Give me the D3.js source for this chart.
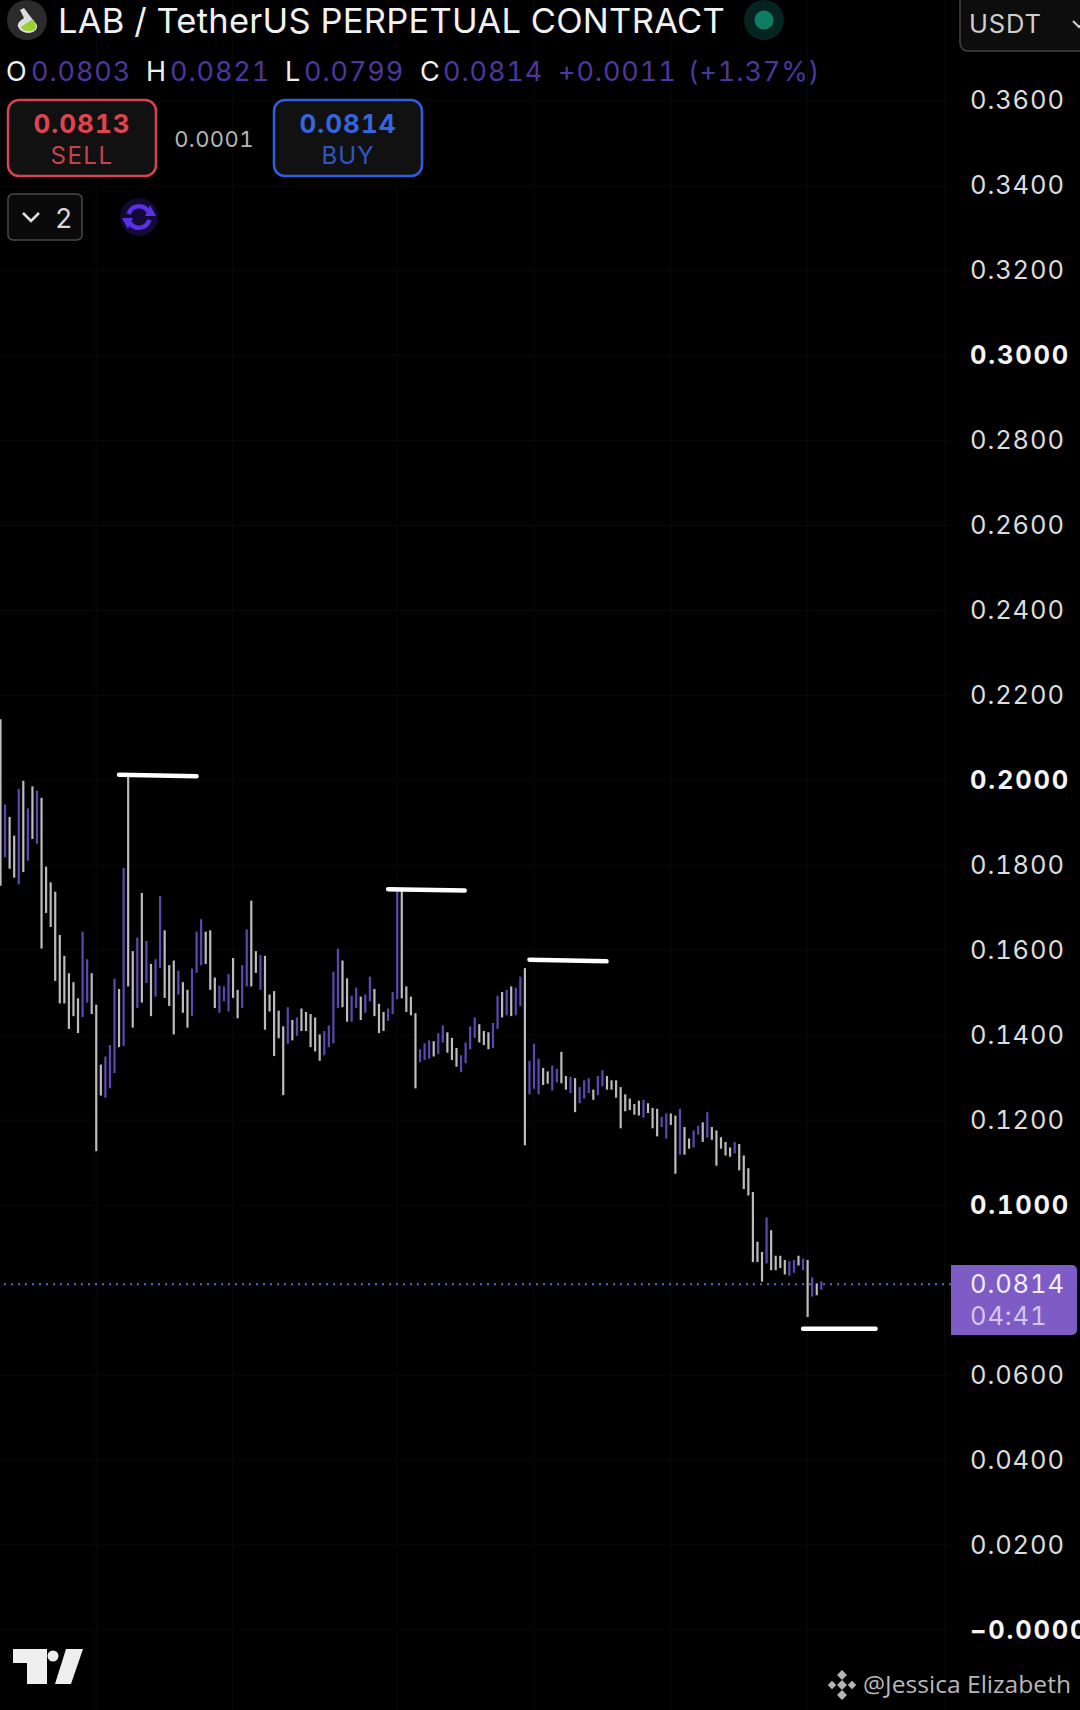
<!DOCTYPE html>
<html>
<head>
<meta charset="utf-8">
<script src="https://cdn.jsdelivr.net/npm/d3@7"></script>
<style>
  html, body { margin: 0; padding: 0; background: #000; }
  svg { display: block; }
  text { font-family: Inter, Roboto, sans-serif; font-feature-settings: "tnum"; }
</style>
</head>
<body>
<svg></svg>
<script>
// bar highs (index = bar number from the left)
var barHigh = [
  .2144,.1943,.1914,.1870,.1980,.1999,.1934,.1986,.1976,.1959,
  .1797,.1760,.1738,.1636,.1587,.1546,.1525,.1487,.1644,.1579,
  .1546,.1472,.1331,.1350,.1377,.1533,.1509,.1794,.2016,.1598,
  .1630,.1735,.1622,.1568,.1579,.1728,.1647,.1565,.1576,.1552,
  .1525,.1507,.1557,.1644,.1673,.1644,.1647,.1536,.1517,.1515,
  .1544,.1582,.1507,.1565,.1649,.1717,.1598,.1589,.1587,.1496,
  .1504,.1458,.1421,.1466,.1436,.1442,.1463,.1455,.1450,.1442,
  .1402,.1410,.1423,.1550,.1604,.1576,.1534,.1493,.1512,.1491,
  .1496,.1538,.1509,.1474,.1455,.1463,.1502,.1741,.1742,.1515,
  .1491,.1452,.1367,.1381,.1388,.1386,.1405,.1423,.1407,.1394,
  .1370,.1353,.1383,.1421,.1442,.1426,.1410,.1407,.1429,.1493,
  .1502,.1507,.1515,.1512,.1538,.1558,.1340,.1380,.1345,.1323,
  .1315,.1329,.1321,.1361,.1304,.1302,.1299,.1278,.1294,.1299,
  .1272,.1304,.1318,.1304,.1294,.1294,.1278,.1261,.1251,.1238,
  .1246,.1248,.1240,.1229,.1227,.1208,.1216,.1216,.1211,.1227,
  .1184,.1157,.1176,.1187,.1195,.1219,.1184,.1176,.1160,.1149,
  .1136,.1149,.1144,.1117,.1087,.1031,.0914,.0890,.0971,.0941,
  .0881,.0881,.0871,.0868,.0871,.0881,.0874,.0871,.0830,.0815,
  .0821
];
var barLow = [
  .1752,.1819,.1792,.1771,.1755,.1784,.1811,.1862,.1851,.1604,
  .1688,.1655,.1528,.1475,.1475,.1415,.1445,.1405,.1443,.1477,
  .1450,.1127,.1258,.1253,.1275,.1311,.1372,.1375,.1515,.1418,
  .1464,.1477,.1523,.1445,.1491,.1558,.1488,.1469,.1402,.1496,
  .1453,.1418,.1445,.1547,.1565,.1568,.1507,.1464,.1453,.1480,
  .1456,.1488,.1440,.1464,.1515,.1515,.1547,.1507,.1413,.1456,
  .1351,.1393,.1259,.1380,.1388,.1399,.1410,.1410,.1372,.1362,
  .1340,.1353,.1372,.1381,.1464,.1466,.1432,.1432,.1464,.1436,
  .1453,.1480,.1445,.1405,.1410,.1434,.1450,.1485,.1487,.1455,
  .1447,.1275,.1337,.1342,.1345,.1350,.1356,.1383,.1359,.1342,
  .1326,.1313,.1334,.1367,.1394,.1383,.1377,.1367,.1370,.1415,
  .1442,.1447,.1445,.1447,.1469,.1141,.1261,.1274,.1261,.1283,
  .1286,.1270,.1289,.1287,.1272,.1264,.1219,.1240,.1251,.1264,
  .1248,.1259,.1280,.1272,.1272,.1253,.1181,.1221,.1224,.1213,
  .1211,.1206,.1217,.1181,.1162,.1184,.1157,.1189,.1074,.1119,
  .1119,.1133,.1136,.1166,.1149,.1159,.1154,.1093,.1133,.1117,
  .1114,.1122,.1082,.1038,.1023,.0866,.0866,.0820,.0863,.0847,
  .0847,.0852,.0837,.0834,.0841,.0858,.0847,.0737,.0785,.0788,
  .0801
];
// bar numbers drawn purple (close above open), the rest are grey
var risingBars = [1,4,6,8,18,19,23,24,25,27,30,32,34,35,39,42,43,44,48,49,50,53,54,57,63,65,
  71,72,73,74,77,78,80,81,85,86,87,92,93,94,96,97,101,102,103,104,108,109,111,113,114,116,117,118,
  121,122,125,127,128,129,131,132,141,145,146,149,152,153,155,161,168,173,174,176,178,180];

// hand drawn levels: start bar, end bar, start price, end price
var levelStart = [26, 85, 116, 176];
var levelEnd = [43, 101.8, 132.9, 191.9];
var levelFrom = [.2013, .1744, .1578, .0709];
var levelTo = [.2010, .1741, .1574, .0709];

var priceTicks = [.36,.34,.32,.30,.28,.26,.24,.22,.20,.18,.16,.14,.12,.10,.06,.04,.02,0];
var tickLabels = ["0.3600","0.3400","0.3200","0.3000","0.2800","0.2600","0.2400","0.2200","0.2000",
  "0.1800","0.1600","0.1400","0.1200","0.1000","0.0600","0.0400","0.0200","\u22120.0000"];
var boldLabels = ["0.3000","0.2000","0.1000","\u22120.0000"];
var gridBars = [21, 51, 87, 117, 147, 177, 207];
var lastPrice = 0.0814;

var svgWidth = 1080, svgHeight = 1710;
var svg = d3.select('svg')
    .attr("width", svgWidth)
    .attr("height", svgHeight)
    .attr("viewBox", "0 0 1080 1710");

var x = d3.scaleLinear().domain([0, 180]).range([0.5, 821.3]);
var y = d3.scaleLinear().domain([0, 0.36]).range([1630, 100.7]);

function isBold(d) {
  return boldLabels.indexOf(tickLabels[priceTicks.indexOf(d)]) >= 0;
}

// faint grid
svg.append("g").selectAll("line").data(priceTicks).enter().append("line")
    .attr("x1", 0).attr("x2", 951)
    .attr("y1", d => y(d)).attr("y2", d => y(d))
    .attr("stroke", "#090909");
svg.append("g").selectAll("line").data(gridBars).enter().append("line")
    .attr("x1", d => x(d)).attr("x2", d => x(d))
    .attr("y1", 0).attr("y2", svgHeight)
    .attr("stroke", "#090909");

// price axis labels
var axis = d3.axisRight(y).tickValues(priceTicks).tickSize(0).tickPadding(0)
    .tickFormat((d, i) => tickLabels[i]);
var axisG = svg.append("g").attr("transform", "translate(970,0)").call(axis);
axisG.select(".domain").remove();
axisG.selectAll("text")
    .attr("font-size", 25.5)
    .style("font-family", "Inter, Roboto, sans-serif")
    .style("letter-spacing", d => isBold(d) ? "1.8px" : "0.9px")
    .attr("font-weight", d => isBold(d) ? 700 : 400)
    .attr("fill", d => isBold(d) ? "#f4f4f4" : "#dcdcdc");

// last price line
svg.append("line")
    .attr("x1", 4).attr("x2", 951)
    .attr("y1", y(lastPrice)).attr("y2", y(lastPrice))
    .attr("stroke", "#7258cc").attr("stroke-width", 2)
    .attr("stroke-dasharray", "2 5");

// bars
svg.append("g").selectAll("line").data(barHigh).enter().append("line")
    .attr("x1", (d, i) => x(i)).attr("x2", (d, i) => x(i))
    .attr("y1", d => y(d))
    .attr("y2", (d, i) => y(barLow[i]))
    .attr("stroke-width", 2.2)
    .attr("stroke", (d, i) => risingBars.indexOf(i) >= 0 ? "#5f47b3" : "#bcbcbc");

// hand drawn levels
svg.append("g").selectAll("line").data(levelStart).enter().append("line")
    .attr("x1", d => x(d))
    .attr("x2", (d, i) => x(levelEnd[i]))
    .attr("y1", (d, i) => y(levelFrom[i]))
    .attr("y2", (d, i) => y(levelTo[i]))
    .attr("stroke", "#fff").attr("stroke-width", 4.5).attr("stroke-linecap", "round");

// last price tag
var tag = svg.append("g");
tag.append("path")
    .attr("d", "M951,1265H1072a5,5 0 0 1 5,5V1330a5,5 0 0 1 -5,5H951Z")
    .attr("fill", "#7d5cc6");
tag.append("text").attr("x", 970).attr("y", 1284).attr("dy", "0.36em")
    .attr("font-size", 25.5).attr("fill", "#f2edfa").style("letter-spacing", "0.9px").text("0.0814");
tag.append("text").attr("x", 970).attr("y", 1316).attr("dy", "0.36em")
    .attr("font-size", 25.5).attr("fill", "#d4c6ee").style("letter-spacing", "0.9px").text("04:41");

// header
function label(txt, px, py, size, fill, weight, anchor) {
  return svg.append("text")
    .attr("x", px).attr("y", py).attr("dy", "0.36em")
    .attr("font-size", size).attr("fill", fill)
    .attr("font-weight", weight || 400)
    .attr("text-anchor", anchor || "start")
    .text(txt);
}

svg.append("circle").attr("cx", 27).attr("cy", 20).attr("r", 20).attr("fill", "#2b2b2b");
svg.append("path").attr("d", "M20,10 L24,8 L30,16 L37,25 Q38,31 30,33 Q21,33 18,27 Q17,24 20,21 L24,18 Z")
    .attr("fill", "#ddd");
svg.append("path").attr("d", "M21,27 L33,19 L36,26 Q36,31 29,31 Q23,31 21,27 Z").attr("fill", "#9ad12e");

label("LAB / TetherUS PERPETUAL CONTRACT", 58, 21, 34.5, "#f2f2f2").style("letter-spacing", "0.27px");
svg.append("circle").attr("cx", 764).attr("cy", 20).attr("r", 20).attr("fill", "#05241f");
svg.append("circle").attr("cx", 764).attr("cy", 20).attr("r", 9.5).attr("fill", "#0f7d66");

svg.append("rect").attr("x", 960).attr("y", -8).attr("width", 140).attr("height", 59).attr("rx", 8)
    .attr("fill", "#0d0d0d").attr("stroke", "#444").attr("stroke-width", 1.5);
label("USDT", 969, 24, 25.5, "#cfcfcf").style("letter-spacing", "0.8px");
svg.append("path").attr("d", "M1073,21 L1079,27 L1085,21").attr("fill", "none")
    .attr("stroke", "#cfcfcf").attr("stroke-width", 2);

var ohlcLetters = [["O", 6], ["H", 146], ["L", 285], ["C", 420]];
var ohlcValues = [["0.0803", 31], ["0.0821", 170], ["0.0799", 304], ["0.0814", 443], ["+0.0011", 558], ["(+1.37%)", 688]];
ohlcLetters.forEach(d => label(d[0], d[1], 71, 27, "#f0f0f0"));
ohlcValues.forEach(d => label(d[0], d[1], 71, 27, "#4b389f").style("letter-spacing", "0.9px"));

svg.append("rect").attr("x", 8).attr("y", 100).attr("width", 148).attr("height", 76).attr("rx", 11)
    .attr("fill", "#111").attr("stroke", "#d8434f").attr("stroke-width", 2.5);
label("0.0813", 82, 124, 26, "#e0454f", 700, "middle").style("letter-spacing", "1px");
label("SELL", 82, 155, 24, "#c8414b", 400, "middle").style("letter-spacing", "1.5px");
label("0.0001", 214, 139, 22, "#b5b5b5", 400, "middle").style("letter-spacing", "0.4px");
svg.append("rect").attr("x", 274).attr("y", 100).attr("width", 148).attr("height", 76).attr("rx", 11)
    .attr("fill", "#111").attr("stroke", "#2f5fe0").attr("stroke-width", 2.5);
label("0.0814", 348, 124, 26, "#3565df", 700, "middle").style("letter-spacing", "1px");
label("BUY", 348, 155, 24, "#2f55c8", 400, "middle").style("letter-spacing", "1px");

svg.append("rect").attr("x", 8).attr("y", 194).attr("width", 74).attr("height", 46).attr("rx", 5)
    .attr("fill", "#0a0a0a").attr("stroke", "#4a4a4a").attr("stroke-width", 1.5);
svg.append("path").attr("d", "M23,213 L31,221 L39,213").attr("fill", "none")
    .attr("stroke", "#e0e0e0").attr("stroke-width", 2.5);
label("2", 55, 218, 27, "#d8d8d8");

// sync icon
svg.append("circle").attr("cx", 139).attr("cy", 217).attr("r", 19).attr("fill", "#120a33");
var syncArc = d3.arc().innerRadius(8.5).outerRadius(13);
[[-1.3, 1.0], [1.85, 4.15]].forEach(a => {
  svg.append("path").attr("transform", "translate(139,217)")
    .attr("d", syncArc({startAngle: a[0], endAngle: a[1]}))
    .attr("fill", "#5b30e6");
});
svg.append("path").attr("d", "M150,205 L156,216 L145,216 Z").attr("fill", "#5b30e6");
svg.append("path").attr("d", "M128,229 L122,218 L133,218 Z").attr("fill", "#5b30e6");

// logo
svg.append("path").attr("d", "M13,1649H47V1684H27V1663H13Z").attr("fill", "#eee");
svg.append("circle").attr("cx", 53).attr("cy", 1656).attr("r", 5.5).attr("fill", "#eee");
svg.append("path").attr("d", "M66,1649H83L71,1684H55Z").attr("fill", "#eee");

// watermark
[[842, 1675, 3.5], [842, 1695, 3.5], [832, 1685, 3], [852, 1685, 3], [842, 1685, 3.5]].forEach(d => {
  svg.append("rect")
    .attr("x", d[0] - d[2]).attr("y", d[1] - d[2])
    .attr("width", d[2] * 2).attr("height", d[2] * 2)
    .attr("transform", "rotate(45," + d[0] + "," + d[1] + ")")
    .attr("fill", "#b5b5b5");
});
label("@Jessica Elizabeth", 863, 1684, 24, "#b8b8b8")
    .style("font-family", "'Open Sans', sans-serif")
    .attr("textLength", 208).attr("lengthAdjust", "spacingAndGlyphs");
</script>
</body>
</html>
